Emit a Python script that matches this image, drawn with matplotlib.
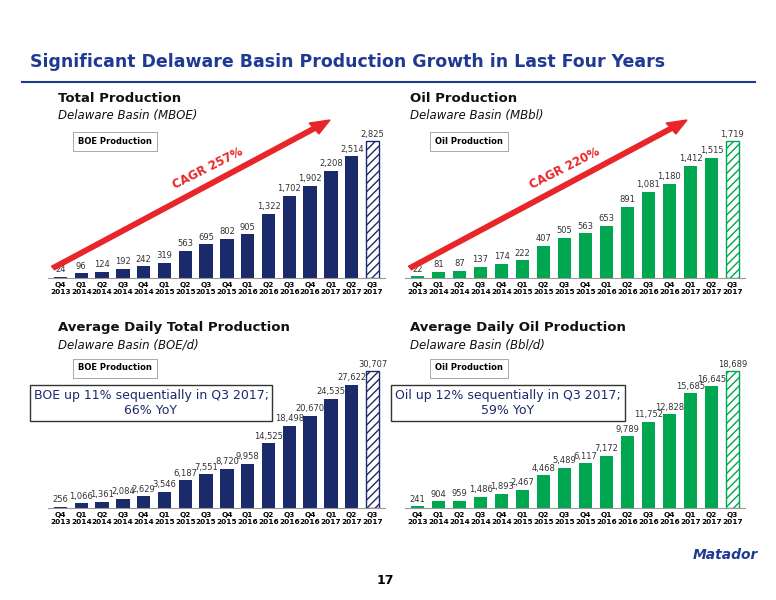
import matplotlib
matplotlib.use("Agg")
import matplotlib.pyplot as plt
from matplotlib.patches import FancyArrow
from matplotlib.lines import Line2D

quarters = ["Q4","Q1","Q2","Q3","Q4","Q1","Q2","Q3","Q4","Q1","Q2","Q3","Q4","Q1","Q2","Q3"]
years = ["2013","2014","2014","2014","2014","2015","2015","2015","2015","2016","2016","2016","2016","2017","2017","2017"]
total_prod = [24,96,124,192,242,319,563,695,802,905,1322,1702,1902,2208,2514,2825]
oil_prod = [22,81,87,137,174,222,407,505,563,653,891,1081,1180,1412,1515,1719]
daily_boe = [256,1066,1361,2084,2629,3546,6187,7551,8720,9958,14525,18498,20670,24535,27622,30707]
daily_oil = [241,904,959,1486,1893,2467,4468,5489,6117,7172,9789,11752,12828,15685,16645,18689]

W, H = 776, 600
fig = plt.figure(figsize=(W/100, H/100), dpi=100)
fig.patch.set_facecolor("white")
NAVY = "#1B2A6B"
GREEN = "#00A650"
TITLE = "#1F3A93"

def fx(x): return x / W
def fy(y): return 1 - y / H

fig.text(fx(30), fy(62), "Significant Delaware Basin Production Growth in Last Four Years",
         fontsize=12.5, fontweight="bold", color=TITLE, va="center")
fig.add_artist(Line2D([fx(22), fx(755)], [fy(82), fy(82)], color=TITLE, lw=1.5))
fig.text(fx(385), fy(580), "17", fontsize=9, fontweight="bold", ha="center", va="center")
fig.text(fx(725), fy(555), "Matador", fontsize=10, fontweight="bold", fontstyle="italic",
         color=TITLE, ha="center", va="center")

panels = [
    (total_prod, NAVY, 48, 385, 278, 125, "Total Production", "Delaware Basin (MBOE)", "BOE Production",
     (58, 98), "CAGR 257%", None),
    (oil_prod, GREEN, 405, 745, 278, 125, "Oil Production", "Delaware Basin (MBbl)", "Oil Production",
     (410, 98), "CAGR 220%", None),
    (daily_boe, NAVY, 48, 385, 508, 355, "Average Daily Total Production", "Delaware Basin (BOE/d)", "BOE Production",
     (58, 327), None, "BOE up 11% sequentially in Q3 2017;\n66% YoY"),
    (daily_oil, GREEN, 405, 745, 508, 355, "Average Daily Oil Production", "Delaware Basin (Bbl/d)", "Oil Production",
     (410, 327), None, "Oil up 12% sequentially in Q3 2017;\n59% YoY"),
]

for vals, col, x0, x1, ybase, ytop, head, sub, leg, hpos, cagr, box in panels:
    ax = fig.add_axes([fx(x0), fy(ybase), fx(x1) - fx(x0), (ybase - ytop) / H])
    x = list(range(len(vals)))
    ax.bar(x[:-1], vals[:-1], width=0.65, color=col)
    ax.bar(x[-1], vals[-1], width=0.65, color="white", edgecolor=col, hatch="////", lw=1)
    ax.set_ylim(0, max(vals) * 1.12)
    ax.set_xlim(-0.6, len(vals) - 0.4)
    for xi, v in zip(x, vals):
        ax.text(xi, v + max(vals) * 0.02, f"{v:,}", ha="center", va="bottom", fontsize=6, color="#333333")
    ax.set_xticks(x)
    ax.set_xticklabels([f"{q}\n{y}" for q, y in zip(quarters, years)], fontsize=5.3, fontweight="bold")
    ax.tick_params(length=0, pad=3)
    ax.set_yticks([])
    for s in ["top", "right", "left"]:
        ax.spines[s].set_visible(False)
    ax.spines["bottom"].set_color("#999999")
    fig.text(fx(hpos[0]), fy(hpos[1]), head, fontsize=9.5, fontweight="bold", color="#111111", va="center")
    fig.text(fx(hpos[0]), fy(hpos[1] + 18), sub, fontsize=8.5, fontstyle="italic", color="#111111", va="center")
    fig.text(fx(x0 + 30), fy(ytop + 16 if cagr else ytop + 13), leg, fontsize=6, fontweight="bold", va="center",
             bbox=dict(boxstyle="square,pad=0.6", fc="white", ec="#999999", lw=0.6))
    if cagr:
        ax0x, ax0y, ax1x, ax1y = x0 + 5, ybase - 10, x0 + 282, ybase - 158
        fig.add_artist(FancyArrow(fx(ax0x), fy(ax0y), fx(ax1x) - fx(ax0x), fy(ax1y) - fy(ax0y),
                                  width=0.007, head_width=0.022, head_length=0.025,
                                  color="#E8262A", length_includes_head=True, transform=fig.transFigure))
        fig.text(fx(x0 + 160), fy(ybase - 110), cagr, fontsize=8.5, fontweight="bold", color="#E8262A",
                 rotation=27, ha="center", va="center")
    if box:
        fig.text(fx(x0 + 103), fy(ytop + 48), box, fontsize=9, color=NAVY, ha="center", va="center",
                 bbox=dict(boxstyle="square,pad=0.3", fc="white", ec="#333333", lw=1))

fig.savefig("out.png", dpi=100)
